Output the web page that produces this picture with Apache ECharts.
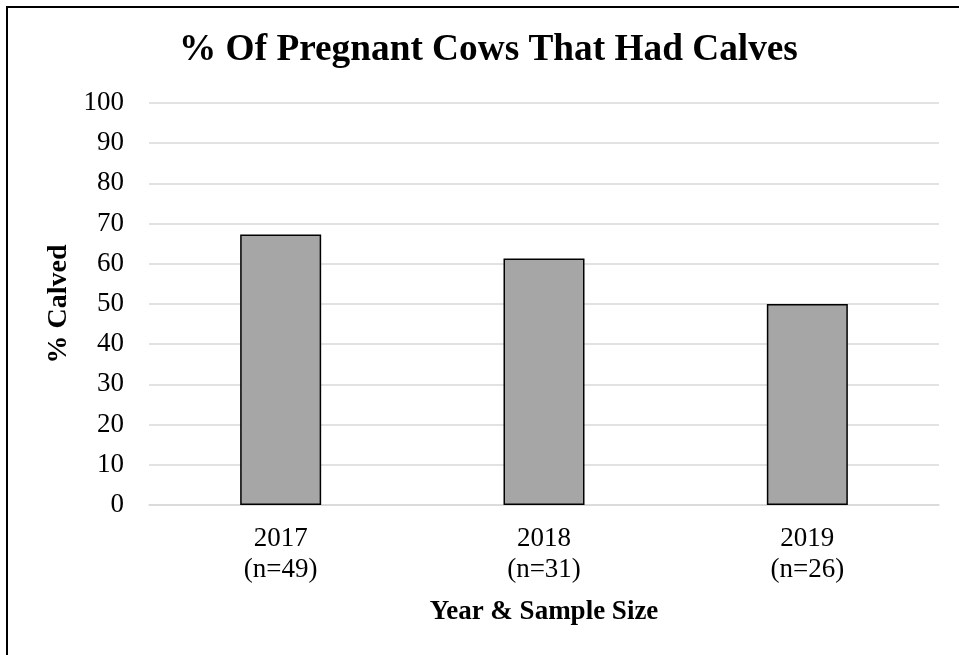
<!DOCTYPE html>
<html>
<head>
<meta charset="utf-8">
<title>% Of Pregnant Cows That Had Calves</title>
<script src="https://cdn.jsdelivr.net/npm/echarts@6/dist/echarts.min.js"></script>
<style>
  html, body { margin: 0; padding: 0; background: #ffffff; }
  #chart { width: 959px; height: 655px; }
</style>
</head>
<body>
<div id="chart"></div>
<script>
// Calving results by year
const years = ['2017', '2018', '2019'];
const sampleSizes = [49, 31, 26];
const pctCalved = [67.3, 61.3, 50];
const yTicks = { min: 0, max: 100, step: 10 };

const SERIF = '"Liberation Serif", "Times New Roman", serif';

// Two-line category labels: year, then sample size
const categories = years.map((y, i) => y + '\n(n=' + sampleSizes[i] + ')');

const chart = echarts.init(document.getElementById('chart'), null, { renderer: 'canvas' });

chart.setOption({
  backgroundColor: '#ffffff',
  animation: false,
  title: {
    text: '% Of Pregnant Cows That Had Calves',
    left: 179,
    top: 32,
    padding: 0,
    textStyle: {
      fontFamily: SERIF,
      fontWeight: 'bold',
      fontSize: 37.3,
      color: '#000000'
    }
  },
  graphic: [{
    // outer frame of the chart area
    type: 'rect',
    shape: { x: 7, y: 7, width: 1000, height: 1000 },
    style: { fill: 'none', stroke: '#000000', lineWidth: 2 },
    silent: true,
    z: 100
  }],
  grid: {
    left: 149,
    right: 20,
    top: 103,
    bottom: 150
  },
  xAxis: {
    type: 'category',
    data: categories,
    name: 'Year & Sample Size',
    nameLocation: 'middle',
    nameGap: 94,
    nameTextStyle: {
      fontFamily: SERIF,
      fontWeight: 'bold',
      fontSize: 27,
      color: '#000000'
    },
    axisLine: { show: true, lineStyle: { color: '#d9d9d9', width: 1.5 } },
    axisTick: { show: false },
    axisLabel: {
      fontFamily: SERIF,
      fontSize: 27,
      lineHeight: 31,
      color: '#000000',
      margin: 18
    }
  },
  yAxis: {
    type: 'value',
    min: yTicks.min,
    max: yTicks.max,
    interval: yTicks.step,
    name: '% Calved',
    nameLocation: 'middle',
    nameGap: 73,
    nameTextStyle: {
      fontFamily: SERIF,
      fontWeight: 'bold',
      fontSize: 28,
      color: '#000000'
    },
    axisLine: { show: false },
    axisTick: { show: false },
    axisLabel: {
      fontFamily: SERIF,
      fontSize: 27,
      color: '#000000',
      margin: 25
    },
    splitLine: { show: true, lineStyle: { color: '#d9d9d9', width: 1.5 } }
  },
  series: [{
    type: 'bar',
    data: pctCalved,
    barWidth: 81,
    itemStyle: {
      color: '#a6a6a6',
      borderColor: '#000000',
      borderWidth: 1.5
    }
  }]
});
</script>
</body>
</html>
